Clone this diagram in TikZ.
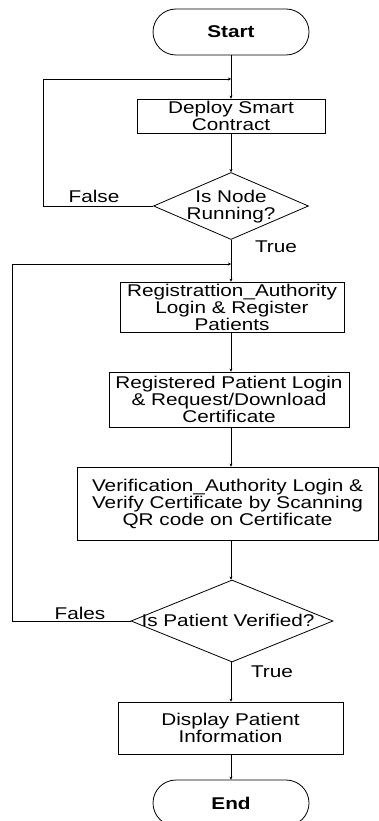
\documentclass[tikz,border=0pt]{standalone}
\usepackage{fontspec}
\setmainfont{Liberation Sans}[FakeStretch=1.22]
\usetikzlibrary{shapes.geometric,arrows.meta}

\tikzset{
  every node/.style={font=\fontsize{17}{17}\selectfont},
  flow/.style={line width=0.8pt},
  arr/.style={flow, -{Stealth[length=3pt,width=3pt]}},
  box/.style={draw, flow, rectangle, inner sep=0pt, align=center},
  term/.style={draw, flow, rectangle, rounded corners=23pt, inner sep=0pt,
               minimum width=156pt, minimum height=46pt},
  dia/.style={draw, flow, diamond, inner sep=0pt},
  txt/.style={align=center, inner sep=0pt},
  lbl/.style={inner sep=0pt}
}

\begin{document}
\begin{tikzpicture}[x=1pt,y=-1pt]
\useasboundingbox (0,0) rectangle (379,821);
\clip (0,0) rectangle (379,821);

% vertical axis of the flow
\coordinate (spine) at (231,0);

% process steps
\node[term] (start) at (231,32) {\bfseries Start};
\node[box, minimum width=188pt, minimum height=34pt] (deploy) at (231,116)
  {Deploy Smart\\Contract};
\node[dia, minimum width=155pt, minimum height=67pt] (d1) at (231,206) {};
\node[txt] (d1t) at (231,207) {Is Node\\Running?};
\node[box, minimum width=224pt, minimum height=50pt] (reg) at (232,307)
  {Registrattion\_Authority\\Login \& Register\\Patients};
\node[box, minimum width=240pt, minimum height=55pt] (pat) at (229,399.5)
  {Registered Patient Login\\\& Request/Download\\Certificate};
\node[box, minimum width=301pt, minimum height=73pt] (ver) at (227.5,503.5)
  {Verification\_Authority Login \&\\Verify Certificate by Scanning\\QR code on Certificate};
\node[dia, minimum width=202pt, minimum height=82pt] (d2) at (232,621) {};
\node[txt] (d2t) at (228,620) {Is Patient Verified?};
\node[box, minimum width=225pt, minimum height=52pt] (disp) at (230.5,728)
  {Display Patient\\Information};
\node[term] (end) at (231,803) {\bfseries End};

% main flow
\draw[arr] (start.south -| spine) -- (deploy.north -| spine);
\draw[arr] (deploy.south -| spine) -- (d1.north -| spine);
\draw[arr] (d1.south -| spine) -- (reg.north -| spine);
\draw[arr] (reg.south -| spine) -- (pat.north -| spine);
\draw[arr] (pat.south -| spine) -- (ver.north -| spine);
\draw[arr] (ver.south -| spine) -- (d2.north -| spine);
\draw[arr] (d2.south -| spine) -- (disp.north -| spine);
\draw[arr] (disp.south -| spine) -- (end.north -| spine);

% retry loops
\coordinate (j1) at (231,79);
\coordinate (c1) at (43,79);
\draw[arr] (d1.west) -| (c1) -- (j1);
\coordinate (j2) at (231,264);
\coordinate (c2) at (12,264);
\draw[arr] (d2.west) -| (c2) -- (j2);

% branch labels
\node[lbl] (f1) at (94,196) {False};
\node[lbl] (t1) at (276,247) {True};
\node[lbl] (f2) at (80,613) {Fales};
\node[lbl] (t2) at (272,672) {True};
\end{tikzpicture}
\end{document}
